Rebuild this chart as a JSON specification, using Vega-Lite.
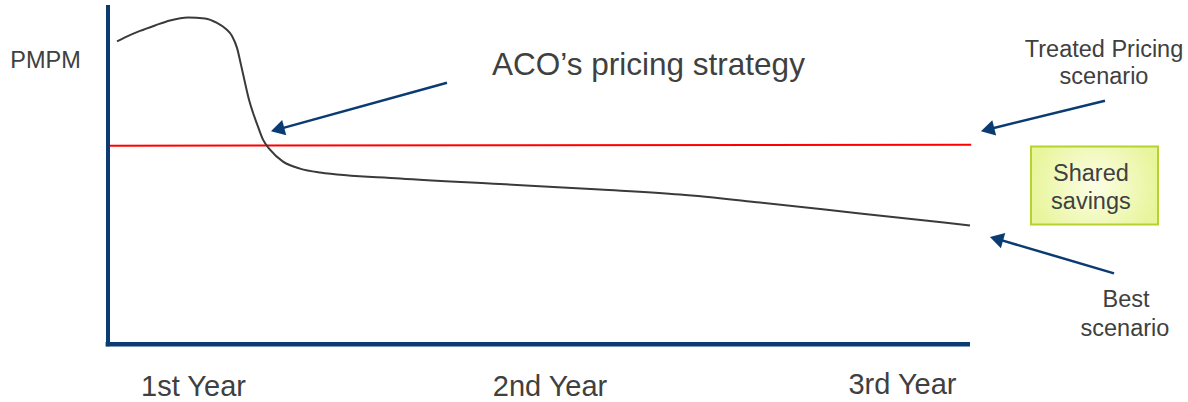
{
  "$schema": "https://vega.github.io/schema/vega-lite/v6.json",
  "width": 1188,
  "height": 402,
  "autosize": {"type": "fit", "contains": "padding"},
  "padding": 0,
  "background": "white",
  "config": {"view": {"stroke": null}, "text": {"font": "Liberation Sans", "color": "#404040"}},
  "datasets": {
    "curve": [
      {"m": 0.376, "v": 89.26}, {"m": 0.71, "v": 90.44}, {"m": 1.336, "v": 92.35}, {"m": 1.963, "v": 93.97},
      {"m": 2.589, "v": 95.44}, {"m": 3.341, "v": 96.32}, {"m": 4.051, "v": 96.03}, {"m": 4.552, "v": 94.71},
      {"m": 4.928, "v": 92.94}, {"m": 5.179, "v": 90.88}, {"m": 5.388, "v": 87.35}, {"m": 5.555, "v": 82.35},
      {"m": 5.722, "v": 77.06}, {"m": 5.889, "v": 72.06}, {"m": 6.056, "v": 68.24}, {"m": 6.265, "v": 64.12},
      {"m": 6.474, "v": 60.29}, {"m": 6.766, "v": 57.35}, {"m": 7.309, "v": 53.82}, {"m": 8.019, "v": 51.76},
      {"m": 8.854, "v": 50.59}, {"m": 12.196, "v": 48.82}, {"m": 16.372, "v": 47.21}, {"m": 20.548, "v": 45.59},
      {"m": 23.89, "v": 44.12}, {"m": 27.231, "v": 41.76}, {"m": 31.407, "v": 38.53}, {"m": 36.0, "v": 35.0}
    ],
    "pricing": [{"m": 0, "v": 58.53}, {"m": 36.05, "v": 58.82}],
    "vaxis": [{"m": 0, "v": 100.0, "v2": -0.6}],
    "haxis": [{"m": -0.1, "m2": 36.0, "v": 0}],
    "arrows": [
      {"name": "ACO", "m": 14.158, "v": 77.06, "m2": 7.175, "v2": 63.47},
      {"name": "Treated", "m": 41.639, "v": 71.76, "m2": 36.827, "v2": 63.44},
      {"name": "Best", "m": 42.015, "v": 20.88, "m2": 37.199, "v2": 30.88}
    ],
    "box": [{"m": 38.548, "m2": 43.852, "v": 58.24, "v2": 35.29}],
    "labels": [
      {"text": "PMPM", "m": -2.61, "v": 81.38},
      {"text": "Treated Pricing", "m": 41.597, "v": 84.79},
      {"text": "scenario", "m": 41.597, "v": 76.76},
      {"text": "Shared", "m": 41.05, "v": 48.24},
      {"text": "savings", "m": 41.05, "v": 39.71},
      {"text": "Best", "m": 42.515, "v": 10.88},
      {"text": "scenario", "m": 42.47, "v": 2.44}
    ],
    "years": [
      {"text": "1st Year", "m": 3.571, "v": -15.29},
      {"text": "2nd Year", "m": 18.46, "v": -15.21},
      {"text": "3rd Year", "m": 33.18, "v": -14.71}
    ],
    "title": [{"text": "ACO’s pricing strategy", "m": 22.573, "v": 79.26}]
  },
  "encoding": {
    "x": {"field": "m", "type": "quantitative", "scale": {"domain": [-4.5105, 45.105], "nice": false, "zero": false}, "axis": null},
    "y": {"field": "v", "type": "quantitative", "scale": {"domain": [-16.765, 101.471], "nice": false, "zero": false}, "axis": null}
  },
  "layer": [
    {
      "data": {"name": "pricing"},
      "mark": {"type": "line", "color": "#ff0000", "strokeWidth": 2},
      "encoding": {}
    },
    {
      "data": {"name": "curve"},
      "mark": {"type": "line", "color": "#3a3a3a", "strokeWidth": 2, "interpolate": "monotone"},
      "encoding": {}
    },
    {
      "data": {"name": "vaxis"},
      "mark": {"type": "rule", "color": "#0a3b72", "strokeWidth": 4},
      "encoding": {"y2": {"field": "v2"}}
    },
    {
      "data": {"name": "haxis"},
      "mark": {"type": "rule", "color": "#0a3b72", "strokeWidth": 4.5},
      "encoding": {"x2": {"field": "m2"}}
    },
    {
      "data": {"name": "arrows"},
      "mark": {"type": "rule", "color": "#0a3b72", "strokeWidth": 2.5},
      "encoding": {"x2": {"field": "m2"}, "y2": {"field": "v2"}}
    },
    {
      "data": {"name": "arrows"},
      "transform": [{"filter": "datum.name === 'ACO'"}],
      "mark": {"type": "point", "shape": "triangle", "filled": true, "color": "#0a3b72", "size": 250, "angle": 255, "opacity": 1},
      "encoding": {"x": {"field": "m2", "type": "quantitative"}, "y": {"field": "v2", "type": "quantitative"}}
    },
    {
      "data": {"name": "arrows"},
      "transform": [{"filter": "datum.name === 'Treated'"}],
      "mark": {"type": "point", "shape": "triangle", "filled": true, "color": "#0a3b72", "size": 250, "angle": 256, "opacity": 1},
      "encoding": {"x": {"field": "m2", "type": "quantitative"}, "y": {"field": "v2", "type": "quantitative"}}
    },
    {
      "data": {"name": "arrows"},
      "transform": [{"filter": "datum.name === 'Best'"}],
      "mark": {"type": "point", "shape": "triangle", "filled": true, "color": "#0a3b72", "size": 250, "angle": 286, "opacity": 1},
      "encoding": {"x": {"field": "m2", "type": "quantitative"}, "y": {"field": "v2", "type": "quantitative"}}
    },
    {
      "data": {"name": "box"},
      "mark": {"type": "rect", "fill": "#9a9a9a", "opacity": 0.45, "xOffset": 2, "yOffset": 3},
      "encoding": {"x2": {"field": "m2"}, "y2": {"field": "v2"}}
    },
    {
      "data": {"name": "box"},
      "mark": {
        "type": "rect",
        "fill": {"gradient": "radial", "stops": [{"offset": 0, "color": "#fcfee6"}, {"offset": 1, "color": "#e8f59c"}]},
        "stroke": "#b4d32c",
        "strokeWidth": 2
      },
      "encoding": {"x2": {"field": "m2"}, "y2": {"field": "v2"}}
    },
    {
      "data": {"name": "labels"},
      "mark": {"type": "text", "fontSize": 23.5, "align": "center", "baseline": "alphabetic"},
      "encoding": {"text": {"field": "text"}}
    },
    {
      "data": {"name": "years"},
      "mark": {"type": "text", "fontSize": 29, "align": "center", "baseline": "alphabetic"},
      "encoding": {"text": {"field": "text"}}
    },
    {
      "data": {"name": "title"},
      "mark": {"type": "text", "fontSize": 31.5, "align": "center", "baseline": "alphabetic"},
      "encoding": {"text": {"field": "text"}}
    }
  ]
}
